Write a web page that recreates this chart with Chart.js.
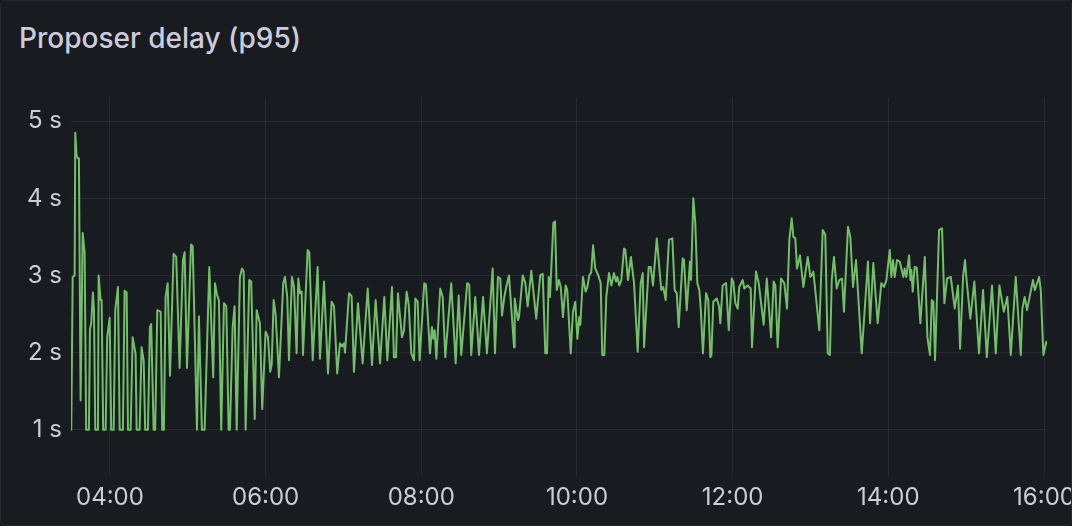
<!DOCTYPE html>
<html>
<head>
<meta charset="utf-8">
<script src="https://cdn.jsdelivr.net/npm/chart.js@4.4.1/dist/chart.umd.min.js"></script>
<style>
  html, body { margin: 0; padding: 0; background: #111217; }
  #panel {
    position: absolute; left: 0; top: 0; width: 1070px; height: 524px;
    background: #181b1f; border: 1px solid #25282d; border-radius: 4px; overflow: hidden;
  }
  #title {
    position: absolute; left: 18px; top: 19px; line-height: 36px;
    font-family: Inter, sans-serif; font-weight: 500; font-size: 28px; color: #ccccdc;
  }
  #wrap { position: absolute; left: -1px; top: -1px; width: 1072px; height: 526px; }
</style>
</head>
<body>
<div id="panel">
  <div id="title">Proposer delay (p95)</div>
  <div id="wrap"><canvas id="delayChart" width="1072" height="526"></canvas></div>
</div>
<script>
// minutes since 03:30
var minutes = [
    0.2,1.3,2.8,3.3,3.8,4.3,5.3,6.1,7.4,9.0,
    10.5,11.7,13.8,14.6,15.6,16.9,17.7,18.7,20.8,21.3,
    22.8,23.6,24.8,26.7,27.9,29.8,31.0,32.9,34.1,36.2,
    37.5,40.0,41.3,42.9,43.9,46.0,47.5,49.8,50.6,52.9,
    54.4,56.0,57.2,59.3,60.8,61.8,63.7,64.9,66.5,69.1,
    70.3,71.6,72.9,74.5,76.3,79.1,81.1,83.7,86.3,87.6,
    89.4,92.5,93.8,97.1,98.6,100.9,103.0,106.6,109.6,111.0,
    112.5,114.0,115.8,117.9,119.7,121.5,122.5,124.6,126.1,127.7,
    130.2,131.8,133.1,134.6,137.4,138.9,141.6,143.1,145.6,147.4,
    150.0,151.8,153.6,154.7,156.2,157.7,160.3,163.6,164.9,166.7,
    168.0,170.3,171.9,173.9,175.2,176.5,177.8,178.8,182.4,183.7,
    186.3,190.1,191.9,195.0,198.1,200.9,202.7,205.2,207.3,208.9,
    210.4,211.2,214.3,216.3,218.1,221.2,224.8,228.7,232.0,234.8,
    238.2,241.5,243.8,247.4,
    248.9,250.5,252.0,253.0,255.1,256.6,258.7,260.3,262.3,264.4,
    265.4,267.2,268.7,272.3,273.6,276.7,278.2,279.2,280.3,281.6,
    284.6,286.5,288.5,293.1,296.5,298.8,300.8,305.4,307.0,308.5,
    311.6,314.5,317.6,320.6,325.0,326.8,329.1,330.9,332.2,334.0,
    335.5,337.6,341.5,342.0,344.5,345.3,348.2,350.2,352.0,354.8,
    358.6,361.7,363.6,365.6,366.9,368.2,369.2,371.8,373.1,
    374.4,376.1,377.5,379.2,381.3,382.5,385.2,386.9,388.7,390.3,
    391.8,392.6,394.6,396.7,398.0,399.5,401.0,402.4,404.1,406.4,
    408.3,409.5,411.1,412.6,414.7,416.5,418.5,420.1,421.1,422.6,
    424.2,426.3,427.3,429.3,431.6,434.0,436.8,439.1,440.7,441.7,
    445.3,446.8,448.6,451.5,455.0,456.5,458.4,460.9,463.5,465.3,
    466.9,468.4,471.5,472.5,474.6,477.1,477.9,479.7,481.2,482.8,
    484.3,485.4,487.1,489.5,491.2,492.8,493.6,495.1,497.7,499.5,
    500.5,502.3,504.9,507.0,509.3,510.5,512.1,513.9,515.1,517.8,
    519.0,521.6,523.9,524.9,528.0,530.1,533.9,536.3,539.6,541.6,
    542.9,544.7,547.3,549.8,551.9,553.7,555.5,556.8,558.3,559.6,
    561.9,564.5,567.9,569.9,570.9,572.2,573.3,576.8,579.4,581.4,
    583.3,585.0,586.4,588.1,590.2,592.2,594.3,595.8,598.9,600.7,
    602.8,605.1,609.5,614.3,615.9,618.4,621.8,
    624.6,626.7,628.5,631.1,632.3,633.6,634.9,636.7,638.8,641.6,
    642.6,643.9,646.0,647.0,647.7,648.8,650.3,651.9,654.7,658.1,
    660.1,662.1,663.5,664.7,666.0,669.1,671.4,673.2,675.3,678.1,
    681.2,683.7,685.3,687.6,689.1,690.1,693.2,696.3,699.9,703.0,
    705.9,709.9,712.8,715.6,719.0,721.7,724.4,728.2,732.1,733.3,
    735.1,736.9,741.5,742.9,746.2,747.5,749.5,751.8
];

// p95 proposer delay, seconds
var delaySeconds = [
    1.0,2.98,3.0,4.85,4.85,4.55,4.52,4.52,1.38,3.55,
    3.3,1.0,1.0,2.3,2.38,2.78,2.55,1.0,1.0,3.0,
    2.68,2.68,1.0,1.0,2.2,2.45,1.0,1.0,2.55,2.85,
    1.0,1.0,2.8,2.78,1.0,1.0,2.2,1.98,1.0,1.0,
    2.07,1.9,1.0,1.0,2.33,2.37,1.0,1.0,2.55,2.53,
    1.0,1.0,2.72,2.9,1.7,3.28,3.24,1.8,3.2,3.3,
    1.8,3.4,3.38,1.0,2.47,1.0,1.0,3.11,1.68,2.9,
    2.75,2.68,1.0,2.64,2.6,1.0,1.0,2.33,2.6,1.0,
    2.98,3.09,3.05,1.0,2.94,2.92,1.14,2.55,2.38,1.27,
    2.27,2.2,1.75,1.85,2.68,2.5,1.68,2.9,2.98,2.72,
    1.9,2.98,2.85,1.99,2.96,2.77,2.79,1.97,3.33,3.3,
    1.9,3.11,1.92,2.92,1.73,2.66,2.6,1.73,2.12,2.08,
    2.12,2.0,2.77,2.73,1.75,2.64,1.86,2.83,1.84,2.68,
    1.86,2.72,1.9,2.85,
    1.94,1.94,2.77,2.58,2.2,2.28,2.79,2.62,1.99,1.9,
    2.7,2.66,1.9,2.9,2.88,1.99,2.33,2.18,2.29,1.92,
    2.83,2.72,1.94,2.9,1.86,2.74,1.97,2.9,2.88,1.97,
    2.72,1.97,2.72,1.99,3.09,1.99,2.98,2.96,2.48,2.72,
    2.85,3.0,2.07,2.7,2.42,2.46,3.0,2.9,2.6,3.06,
    2.44,3.0,3.02,1.99,1.99,2.98,2.72,3.68,3.7,
    2.81,2.94,2.85,2.46,2.87,2.81,1.99,2.53,2.66,2.18,
    2.46,2.36,2.98,2.79,2.85,3.0,3.04,3.39,3.09,3.0,
    2.9,1.97,1.97,2.72,3.03,2.87,3.03,2.92,2.98,2.87,
    2.94,3.35,3.33,2.94,3.24,2.9,2.01,2.9,3.03,2.07,
    3.11,3.11,2.87,3.48,2.81,2.85,2.68,3.46,3.48,2.81,
    2.77,2.33,3.22,3.2,2.55,3.18,2.94,4.0,3.68,2.9,
    2.81,2.57,1.99,2.77,2.68,1.94,1.96,2.66,2.7,2.6,
    2.38,2.87,2.9,2.29,2.96,2.92,2.64,2.57,2.85,2.94,
    2.83,2.87,2.83,2.07,3.05,2.9,2.36,2.96,2.2,2.92,
    2.87,2.07,2.96,2.9,2.57,3.46,3.74,3.5,3.48,3.09,
    3.26,2.85,3.24,2.98,3.0,3.05,2.87,2.29,3.59,3.53,
    1.99,1.97,2.94,3.24,2.83,2.94,2.96,2.53,3.63,3.5,
    2.85,3.2,1.99,3.18,2.38,3.16,2.38,
    2.9,2.85,2.94,3.33,2.98,3.2,2.98,3.2,3.18,2.98,
    3.09,2.98,3.26,2.94,3.07,2.79,3.11,3.1,2.38,3.24,
    2.2,1.97,2.68,2.66,1.9,3.59,3.61,2.64,2.96,2.98,
    2.57,2.87,2.05,2.98,3.2,2.98,2.44,2.92,1.99,2.81,
    1.94,2.87,1.99,2.87,2.53,2.72,1.97,2.98,1.97,2.57,
    2.72,2.55,2.94,2.81,2.98,2.81,1.97,2.14
];

var xTicks = [30, 150, 270, 390, 510, 630, 750];   // 04:00 ... 16:00
var yTicks = [1, 2, 3, 4, 5];
var startMinuteOfDay = 210;  // 03:30

var points = minutes.map(function(m, i) { return { x: m, y: delaySeconds[i] }; });

function clock(m) {
    var t = Math.round(startMinuteOfDay + m);
    var h = Math.floor(t / 60), mm = t % 60;
    return (h < 10 ? '0' : '') + h + ':' + (mm < 10 ? '0' : '') + mm;
}

var gridColor = 'rgba(204, 204, 220, 0.09)';
var textColor = '#ccccdc';

new Chart(document.getElementById('delayChart').getContext('2d'), {
    type: 'line',
    data: {
        datasets: [{
            label: 'p95',
            data: points,
            borderColor: '#73bf69',
            borderWidth: 2,
            borderJoinStyle: 'round',
            borderCapStyle: 'round',
            pointRadius: 0,
            tension: 0,
            fill: false
        }]
    },
    options: {
        responsive: false,
        animation: false,
        layout: { padding: { left: 0, top: 98, right: 25, bottom: 0 } },
        plugins: {
            legend: { display: false },
            tooltip: { enabled: false }
        },
        scales: {
            x: {
                type: 'linear',
                min: 0,
                max: 752.3,
                border: { display: false },
                grid: { color: gridColor, drawTicks: false, lineWidth: 1 },
                afterBuildTicks: function(axis) {
                    axis.ticks = xTicks.map(function(v) { return { value: v }; });
                },
                afterFit: function(axis) {
                    axis.height = 50;
                    axis.paddingLeft = 0;
                    axis.paddingRight = 0;
                },
                ticks: {
                    autoSkip: false,
                    maxRotation: 0,
                    padding: 7,
                    color: textColor,
                    font: { family: 'Inter', size: 24 },
                    callback: function(v) { return clock(v); }
                }
            },
            y: {
                min: 0.4,
                max: 5.3,
                border: { display: false },
                grid: { color: gridColor, drawTicks: false, lineWidth: 1 },
                afterBuildTicks: function(axis) {
                    axis.ticks = yTicks.map(function(v) { return { value: v }; });
                },
                afterFit: function(axis) {
                    axis.width = 71;
                    axis.paddingTop = 0;
                    axis.paddingBottom = 0;
                },
                ticks: {
                    padding: 9,
                    color: textColor,
                    font: { family: 'Inter', size: 24 },
                    callback: function(v) { return v + ' s'; }
                }
            }
        }
    }
});
</script>
</body>
</html>
